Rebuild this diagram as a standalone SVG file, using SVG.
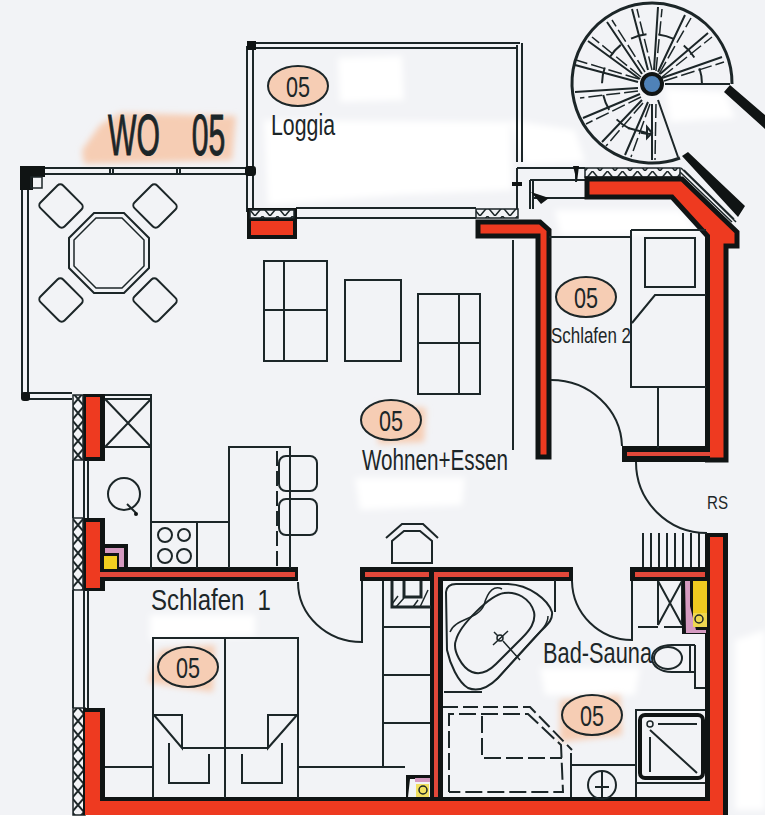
<svg xmlns="http://www.w3.org/2000/svg" width="765" height="819" viewBox="0 0 765 819">
<style>
.l{fill:none;stroke:#1c2628;stroke-width:2}
.t{fill:none;stroke:#1c2628;stroke-width:1.5}
.m{fill:none;stroke:#1c2628;stroke-width:3}
.d{fill:none;stroke:#1c2628;stroke-width:2;stroke-dasharray:15 5}
.r{fill:#ee3a20;stroke:#101414;stroke-width:5;stroke-linejoin:miter}
.k{fill:#101414}
.s{fill:#e2483a}
.f{fill:#ee3a20}
.o{fill:#f6cdb4;stroke:#1c2628;stroke-width:2}
.h{fill:url(#x);stroke:#1c2628;stroke-width:1.5}
.v{fill:url(#xv);stroke:#1c2628;stroke-width:1.5}
text{font-family:"Liberation Sans","DejaVu Sans",sans-serif;fill:#1c2628}
</style>
<defs>
<pattern id="x" width="15" height="9" patternUnits="userSpaceOnUse"><path d="M0 9L7.5 0L15 9" fill="none" stroke="#1c2628" stroke-width="1.5"/></pattern>
<pattern id="xv" width="12" height="14" patternUnits="userSpaceOnUse"><path d="M0 0L12 14M12 0L0 14" fill="none" stroke="#1c2628" stroke-width="2"/></pattern>
<filter id="b" x="-10%" y="-10%" width="120%" height="120%"><feGaussianBlur stdDeviation="3"/></filter>
</defs>
<rect width="765" height="819" fill="#f2f3f6"/>
<g filter="url(#b)" fill="#fff">
<path d="M338 58L402 56L404 100L340 102ZM264 120L510 122L512 190L400 195L268 205ZM555 210L680 210L700 232L620 235L560 235ZM665 88L725 92L735 118L670 122ZM735 640L765 630L765 810L735 810ZM355 478L465 478L462 505L360 510ZM540 668L640 668L635 695L545 695ZM150 615L255 615L255 636L150 640ZM510 120L575 130L585 162L525 165Z"/>
</g>
<rect y="815" width="765" height="4" fill="#fff"/>
<g filter="url(#b)" fill="#f6cdb4">
<path d="M82 150L100 125L120 113L236 116L232 160L84 164Z"/>
<path d="M148 682L160 650L215 645L213 692L165 685Z"/>
<path d="M378 404L426 408L424 442L378 444Z"/>
<path d="M560 700L620 695L622 735L560 742Z"/>
</g>
<g>
<!-- loggia -->
<path class="l" d="M250 43H520M250 48H517M517 45V162M522 43V162M247 46V212M253 46V212M296 208H476M296 218H476"/>
<path class="k" d="M247 41H256V50H247Z"/>
<!-- terrace railing -->
<path class="l" d="M40 168H247M40 174H247M22 185V397M28 190V393M28 393H72M28 399H72M110 168V174M113 168V174M177 168V174M180 168V174"/>
<path class="k" d="M20 166H45V177H33V190H20Z"/>
<rect x="31" y="177" width="11" height="11" fill="none" stroke="#1c2628" stroke-width="1.5"/>
<rect x="245" y="166" width="11" height="10" rx="3" class="k"/>
<rect x="21" y="392" width="9" height="9" rx="3" class="k"/>
<!-- terrace table -->
<path class="l" d="M94 213H124L149 238V268L124 293H94L69 268V238Z"/>
<path class="t" d="M96 218H122L144 240V266L122 288H96L74 266V240Z"/>
<g class="l"><rect x="44" y="190" width="34" height="32" rx="4" transform="rotate(45 61 206)"/><rect x="138" y="190" width="34" height="32" rx="4" transform="rotate(45 155 206)"/><rect x="44" y="284" width="34" height="32" rx="4" transform="rotate(45 61 300)"/><rect x="138" y="284" width="34" height="32" rx="4" transform="rotate(45 155 300)"/></g>
<!-- sofas -->
<path class="l" d="M264 261H327V361H264ZM284 261V361M264 310H327"/>
<rect class="l" x="345" y="280" width="56" height="81"/>
<path class="l" d="M418 294H480V394H418ZM459 294V394M418 343H480"/>
<path class="l" d="M513 240V450"/>
<!-- spiral stair -->
<path class="m" d="M732 84A80 80 0 1 0 680 158"/>
<path class="l" d="M665 84H730"/>
<path class="l" style="stroke-dasharray:16 12" d="M702 84A50 50 0 1 0 652 134"/>
<path class="l" d="M662 78L722 57M660 74L708 33M658 72L685 15M654 70L658 7M648 70L632 9M642 74L607 22M640 79L588 41M638 82L575 65M638 88L575 92M640 94L583 118M642 100L602 142M648 102L625 155M652 104V160M658 100L678 157"/>
<path class="t" style="stroke-dasharray:14 4" d="M664 81L724 62M662 77L712 37M659 74L691 18M656 71L662 9M652 70L637 9M645 72L612 20M641 77L592 37M639 79L576 60M638 91L580 98M641 97L586 124M643 103L606 146M650 104L631 157M656 104L655 160"/>
<path class="l" d="M628 128L647 133M647 127L652 133L647 138Z"/>
<circle cx="652" cy="84" r="10" fill="#4f82b8" stroke="#101414" stroke-width="4"/>
<path class="k" d="M682 156L688 152L745 206L738 217ZM724 92L730 85L765 115V129Z"/>
<!-- top right balcony fittings -->
<path class="l" d="M517 168H585M530 180H585M517 168V209M530 180V209M533 198H585M533 180V209M576 168V182"/>
<path class="k" d="M573 166H579L577 182ZM512 182H522V186H512ZM531 192L549 198L541 204Z"/>
<rect x="585" y="168" width="95" height="9" class="h"/>
<path class="t" d="M681 168L736 222M684 170L734 219M680 172L732 222M680 177L730 228M686 173L730 216"/>
<!-- walls -->
<path class="k" d="M247 208H297V239H247Z"/>
<rect x="250" y="210" width="44" height="8" fill="#f2f3f6"/><rect x="250" y="210" width="44" height="8" class="h"/>
<rect x="251" y="221" width="42" height="14" class="f"/>
<rect x="476" y="209" width="42" height="9" class="h"/>
<path class="r" d="M478 222H540L549 230V457H538V236H478Z"/>
<path class="r" d="M587 179H682L737 232V246L726 246V460H707.5V236L672 197H587Z"/>
<path class="k" d="M622 446H710V462H622Z"/><rect x="627" y="452" width="83" height="4" class="s"/>
<rect x="710" y="448" width="13" height="8" class="f"/>
<path class="k" d="M83 394H105V461H83Z"/><rect x="86" y="397" width="14" height="60" class="f"/>
<path class="k" d="M83 518H105V567H298V581H105V591H83Z"/><rect x="86" y="522" width="14" height="66" class="f"/><rect x="100" y="572" width="195" height="5" class="s"/>
<path class="v" d="M73 395H83V460H73Z"/>
<path class="v" d="M73 518H83V590H73Z"/>
<path class="v" d="M73 708H85V815H73Z"/>
<path class="l" d="M73 460V518M88 460V518M84 460V518M73 590V708M88 590V708M84 590V708"/>
<path class="k" d="M360 567H573V581H443V800H430V581H360Z"/>
<rect x="365" y="572" width="64" height="5" class="s"/>
<rect x="434" y="572" width="135" height="5" class="s"/>
<rect x="434" y="577" width="4" height="222" class="s"/>
<path class="k" d="M630 567H710V581H630Z"/><rect x="635" y="572" width="75" height="5" class="s"/>
<rect x="85" y="800" width="642" height="15" class="f"/>
<path class="k" d="M83 708H105V797H705V533H728V815H723V537H710V801H100V712H85V815H83Z"/>
<rect x="85" y="712" width="15" height="88" class="f"/>
<rect x="710" y="537" width="13" height="263" class="f"/>
<!-- kitchen -->
<path class="l" d="M105 395H151V570M105 399H151M105 447H151M105 399L151 447M151 399L105 447"/>
<circle class="l" cx="124" cy="494" r="16"/>
<path class="l" d="M127 504L136 513"/><circle cx="136" cy="514" r="2" class="k"/>
<path class="l" d="M151 522H229M197 522V568M229 568V447H290V568"/>
<path class="d" d="M277 451V568"/>
<g class="l"><circle cx="165" cy="535" r="7"/><circle cx="184" cy="535" r="6"/><circle cx="165" cy="556" r="7"/><circle cx="184" cy="556" r="7"/><rect x="279" y="456" width="38" height="35" rx="7"/><rect x="279" y="499" width="38" height="36" rx="7"/></g>
<path class="k" d="M105 544H128V568H105Z"/>
<path d="M105 548H124V567H119V553H105Z" fill="#d59ac0"/>
<rect x="104" y="556" width="13" height="13" fill="#f2cf20"/>
<!-- hood and cabinet -->
<path class="l" d="M386 538L402 524H423L438 538M392 563V541L404 531H420L432 541V563Z"/>
<path class="m" d="M392 581V607H431M404 581V597H421V581"/>
<path class="t" d="M398 596L392 604M404 598L396 607M418 600L413 607M428 590L420 607"/>
<path class="l" d="M383 581V767M383 627H430M383 675H430M383 723H430M383 767H405"/>
<!-- bedroom 1 -->
<path class="l" d="M105 767H153M298 767H383"/>
<path class="l" d="M153 798V638H298V798M225 638V798"/>
<path class="l" d="M154 715H182V748L154 715M297 715H268V748L297 715M182 748H268M169 743V783H209V754M242 754V783H282V743"/>
<path class="l" d="M298 582A64 60 0 0 0 362 642V581"/>
<path class="k" d="M406 775H430V779H410L408 797H406Z"/>
<path d="M415 778H430V782H415Z" fill="#d59ac0"/>
<rect x="416" y="784" width="13" height="13" fill="#f2e060"/><circle cx="423" cy="790" r="4" class="t"/>
<!-- bedroom 2 -->
<path class="l" d="M549 237H631M631 230H706M631 230V387H706M645 238H695V287H645ZM632 323L655 295H706M658 387V448"/>
<path class="l" d="M551 380A71 68 0 0 1 622 446M636 462A71 71 0 0 0 707 533"/>
<path class="l" d="M643 533V567M651 533V567M659 533V567M667 533V567M675 533V567M683 533V567M691 533V567M699 533V567"/>
<!-- bathroom -->
<path class="l" d="M572 581A60 60 0 0 0 632 640V581"/>
<path class="l" d="M555 580V612M444 692H482"/>
<path class="l" d="M446 592Q447 584 456 584L508 584C530 585 548 600 552 612C553 620 548 624 540 632L498 678C488 688 478 692 468 688C458 682 450 664 447 650Z"/>
<path class="t" d="M450 632C455 618 478 620 484 605C488 590 495 585 502 589M548 616C548 624 542 630 534 638L496 680"/>
<path class="l" d="M456 640C460 625 490 595 504 593C516 591 530 598 534 612C536 622 530 630 522 638L496 664C488 672 480 675 472 672C462 668 452 650 456 640Z"/>
<path class="t" d="M493 645L508 631M494 632L498 636M503 641L520 660"/><circle cx="500" cy="638" r="3" class="t"/>
<path class="d" d="M443 707H530L572 750"/>
<path class="d" style="stroke-dasharray:17 5" d="M449 792V714H528L561 745L563 792H449M482 716V758H562"/>
<path class="l" d="M571 753V797M571 765H636"/>
<circle class="l" cx="602" cy="785" r="14"/><path class="l" d="M602 771V797M595 787H609"/>
<path class="l" d="M636 797V710H705M636 783H705"/>
<rect x="640" y="715" width="63" height="63" rx="5" fill="none" stroke="#101414" stroke-width="4"/>
<circle class="t" cx="650" cy="724" r="3"/>
<path class="l" d="M658 724H697M650 730L697 773M650 737V772"/>
<path class="d" style="stroke-dasharray:20 6" d="M632 581V627H683"/>
<path class="l" d="M658 581V625M682 581V625M658 581L682 625M682 581L658 625"/>
<path class="k" d="M682 580H710V634H682Z"/>
<rect x="693" y="581" width="14" height="32" fill="#eecb20"/>
<path d="M685 581H690V606L696 630H706V633H686Z" fill="#d59ac0"/>
<rect x="693" y="613" width="14" height="14" fill="#eed850"/><circle class="t" cx="699" cy="619" r="4"/>
<path class="l" d="M695 645V688H705M690 645H695M690 672H695M690 645V672M690 645H672C660 645 652 650 652 658C652 666 660 672 672 672H690"/>
<ellipse class="l" cx="668" cy="658" rx="14" ry="11"/>
</g>
<g>
<ellipse class="o" cx="298" cy="86" rx="30" ry="20"/>
<ellipse class="o" cx="391" cy="420" rx="30" ry="20"/>
<ellipse class="o" cx="586" cy="297" rx="30" ry="20"/>
<ellipse class="o" cx="188" cy="667" rx="30" ry="20"/>
<ellipse class="o" cx="592" cy="715" rx="30" ry="20"/>
<g font-size="30">
<text x="286" y="97" textLength="24" lengthAdjust="spacingAndGlyphs">05</text>
<text x="379" y="431" textLength="24" lengthAdjust="spacingAndGlyphs">05</text>
<text x="574" y="308" textLength="24" lengthAdjust="spacingAndGlyphs">05</text>
<text x="176" y="678" textLength="24" lengthAdjust="spacingAndGlyphs">05</text>
<text x="580" y="726" textLength="24" lengthAdjust="spacingAndGlyphs">05</text>
</g>
<text transform="translate(108 155) scale(.52 1)" font-size="58" word-spacing="45" stroke="#1c2628" stroke-width="1">WO 05</text>
<text x="271" y="135" font-size="30" textLength="64" lengthAdjust="spacingAndGlyphs">Loggia</text>
<text x="362" y="470" font-size="30" textLength="146" lengthAdjust="spacingAndGlyphs">Wohnen+Essen</text>
<text x="551" y="343" font-size="22" textLength="80" lengthAdjust="spacingAndGlyphs">Schlafen 2</text>
<text transform="translate(151 610) scale(.8 1)" font-size="30" word-spacing="8">Schlafen 1</text>
<text x="543" y="663" font-size="30" textLength="109" lengthAdjust="spacingAndGlyphs">Bad-Sauna</text>
<text x="707" y="509" font-size="18" textLength="21" lengthAdjust="spacingAndGlyphs">RS</text>
</g>
</svg>
